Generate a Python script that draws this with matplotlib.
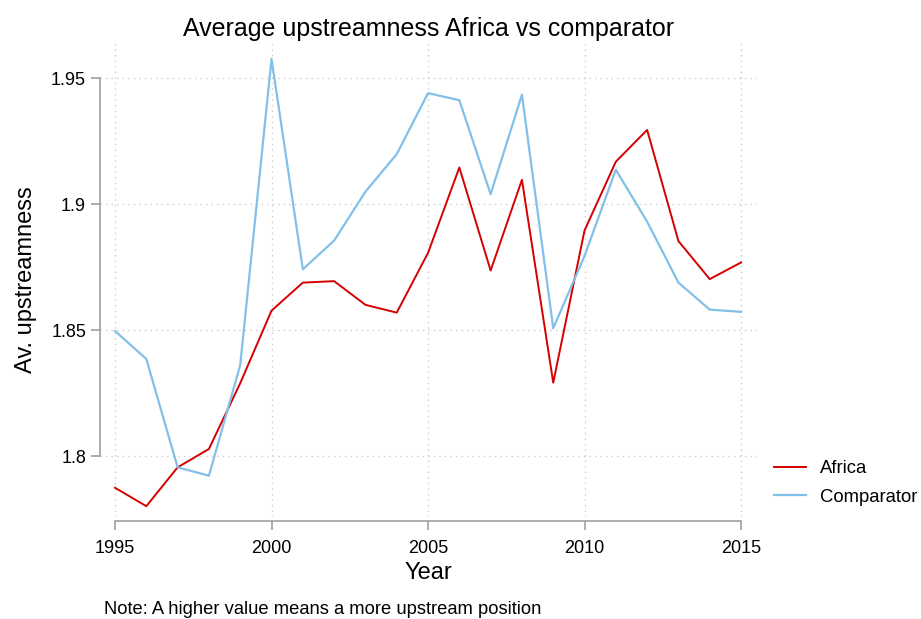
import numpy as np
import matplotlib
matplotlib.use("Agg")
import matplotlib.pyplot as plt

plt.rcParams['font.family'] = ['Liberation Sans', 'DejaVu Sans']

years = list(range(1995, 2016))
africa = [1.7874, 1.7801, 1.7955, 1.8028, 1.8289, 1.8577, 1.8688, 1.8694, 1.8600, 1.8569,
          1.8806, 1.9145, 1.8736, 1.9096, 1.8291, 1.8895, 1.9168, 1.9294, 1.8853, 1.8702, 1.8768]
comparator = [1.8496, 1.8385, 1.7955, 1.7922, 1.8361, 1.9576, 1.8741, 1.8855, 1.9049, 1.9198,
              1.9440, 1.9412, 1.9039, 1.9434, 1.8507, 1.8794, 1.9136, 1.8930, 1.8688, 1.8581, 1.8572]
xticks = [1995, 2000, 2005, 2010, 2015]
yticks = [1.8, 1.85, 1.9, 1.95]
ytick_labels = ["1.8", "1.85", "1.9", "1.95"]

W, H = 921, 619
fig = plt.figure(figsize=(W / 100, H / 100), dpi=100)
ax = fig.add_axes([100 / W, 1 - 517 / H, (757 - 100) / W, (517 - 43) / H])

ax.plot(years, africa, color='#d50000', lw=1.4, label='Africa')
ax.plot(years, comparator, color='#82c0e9', lw=1.6, label='Comparator')

ax.set_xlim(1994.52, 2015.51)
ax.set_ylim(1.7758, 1.9639)
ax.set_xticks(xticks)
ax.set_yticks(yticks)
ax.set_yticklabels(ytick_labels)

ax.grid(True, color='#cccccc', linestyle=(0, (1, 3)), lw=1)
for s in ['top', 'right']:
    ax.spines[s].set_visible(False)
ax.spines['left'].set_bounds(1.8, 1.95)
ax.spines['bottom'].set_bounds(1995, 2015)
ax.spines['bottom'].set_position(('outward', 3))
for s in ['left', 'bottom']:
    ax.spines[s].set_color('#a0a0a0')
    ax.spines[s].set_linewidth(1.2)
ax.tick_params(colors='#a0a0a0', length=6.5, width=1.2, labelcolor='black', labelsize=13)
ax.tick_params(axis='x', pad=7)

ax.set_title('Average upstreamness Africa vs comparator', fontsize=18, pad=5)
ax.set_xlabel('Year', fontsize=17, labelpad=4)
ax.set_ylabel('Av. upstreamness', fontsize=17, labelpad=10)

ax.legend(loc='upper left', bbox_to_anchor=(1.0, 0.155), frameon=False, fontsize=13.3,
          handlelength=1.75, handletextpad=0.75, labelspacing=0.62)

fig.text(104 / W, 1 - 610 / H, 'Note: A higher value means a more upstream position', fontsize=13.2,
         va='center')

fig.savefig('out.png', dpi=100)
